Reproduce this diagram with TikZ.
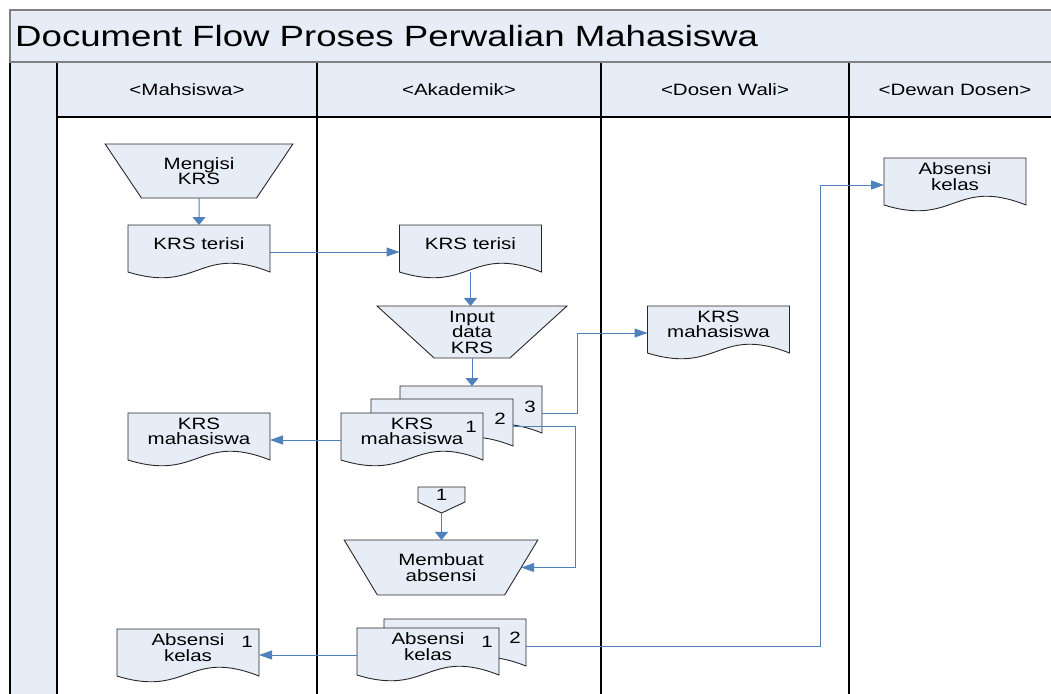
\documentclass[tikz,border=0pt]{standalone}
\usepackage{fontspec}
\setmainfont{Liberation Sans}[FakeStretch=1.25]
\usetikzlibrary{arrows.meta,shapes.geometric}

\definecolor{lanefill}{RGB}{231,237,247}
\definecolor{shapefill}{RGB}{231,237,247}
\definecolor{flowblue}{RGB}{79,129,189}
\definecolor{framegray}{RGB}{128,128,128}
\definecolor{edgegray}{RGB}{40,40,40}

\makeatletter
% Flowchart "document" symbol: the node box is the text area, the sides
% run 10pt further down and end in a wavy bottom edge.
\pgfdeclareshape{flowdoc}{%
  \inheritsavedanchors[from=rectangle]%
  \inheritanchorborder[from=rectangle]%
  \inheritanchor[from=rectangle]{center}%
  \inheritanchor[from=rectangle]{north}%
  \inheritanchor[from=rectangle]{north east}%
  \inheritanchor[from=rectangle]{north west}%
  \anchor{east}{\northeast\advance\pgf@y by -27pt}%
  \anchor{west}{\southwest\pgf@xa=\pgf@x\northeast\pgf@x=\pgf@xa\advance\pgf@y by -27pt}%
  \anchor{south}{\southwest\pgf@xa=\pgf@x\pgf@ya=\pgf@y\northeast\pgf@x=.5\pgf@x\advance\pgf@x by .5\pgf@xa\pgf@y=\pgf@ya\advance\pgf@y by -10pt}%
  \backgroundpath{%
    \southwest\edef\fd@l{\the\pgf@x}\edef\fd@b{\the\pgf@y}%
    \northeast\edef\fd@r{\the\pgf@x}\edef\fd@t{\the\pgf@y}%
    \pgfmathsetlengthmacro\fd@w{\fd@b-10pt}%
    \pgfmathsetlengthmacro\fd@m{(\fd@l+\fd@r)/2}%
    \pgfmathsetlengthmacro\fd@up{\fd@w+28pt}%
    \pgfmathsetlengthmacro\fd@dn{\fd@w-22pt}%
    \pgfpathmoveto{\pgfqpoint{\fd@l}{\fd@t}}%
    \pgfpathlineto{\pgfqpoint{\fd@r}{\fd@t}}%
    \pgfpathlineto{\pgfqpoint{\fd@r}{\fd@w}}%
    \pgfpathcurveto{\pgfqpoint{\fd@m}{\fd@up}}{\pgfqpoint{\fd@m}{\fd@dn}}{\pgfqpoint{\fd@l}{\fd@w}}%
    \pgfpathclose
  }%
}
% Off-page reference: a box with a point hanging 11pt below it.
\pgfdeclareshape{offpage}{%
  \inheritsavedanchors[from=rectangle]%
  \inheritanchorborder[from=rectangle]%
  \inheritanchor[from=rectangle]{center}%
  \inheritanchor[from=rectangle]{north}%
  \anchor{south}{\southwest\pgf@xa=\pgf@x\pgf@ya=\pgf@y\northeast\pgf@x=.5\pgf@x\advance\pgf@x by .5\pgf@xa\pgf@y=\pgf@ya\advance\pgf@y by -11pt}%
  \backgroundpath{%
    \southwest\edef\fd@l{\the\pgf@x}\edef\fd@b{\the\pgf@y}%
    \northeast\edef\fd@r{\the\pgf@x}\edef\fd@t{\the\pgf@y}%
    \pgfmathsetlengthmacro\fd@m{(\fd@l+\fd@r)/2}%
    \pgfmathsetlengthmacro\fd@w{\fd@b-11pt}%
    \pgfpathmoveto{\pgfqpoint{\fd@l}{\fd@t}}%
    \pgfpathlineto{\pgfqpoint{\fd@r}{\fd@t}}%
    \pgfpathlineto{\pgfqpoint{\fd@r}{\fd@b}}%
    \pgfpathlineto{\pgfqpoint{\fd@m}{\fd@w}}%
    \pgfpathlineto{\pgfqpoint{\fd@l}{\fd@b}}%
    \pgfpathclose
  }%
}
\makeatother

\tikzset{
  every node/.style={font=\fontsize{16.4}{15.5}\selectfont, text=black},
  doc/.style={shape=flowdoc, draw=edgegray, fill=shapefill, line width=0.9pt,
    minimum width=142pt, minimum height=37pt, inner sep=0pt, outer sep=0pt, align=center},
  manop/.style={trapezium, trapezium stretches=true,
    trapezium left angle=129, trapezium right angle=129,
    draw=edgegray, fill=shapefill, line width=0.9pt, inner sep=0pt, outer sep=0pt, align=center},
  offref/.style={shape=offpage, draw=edgegray, fill=shapefill, line width=0.9pt,
    minimum width=47pt, minimum height=15pt, inner sep=0pt, outer sep=0pt},
  num/.style={inner sep=0pt},
  lane/.style={line width=1.5pt, black},
  flow/.style={draw=flowblue, line width=1pt},
  arrH/.style={flow, -{Triangle[length=13pt,width=9pt]}},
  arrV/.style={flow, -{Triangle[length=8pt,width=13pt]}},
}

\begin{document}
\begin{tikzpicture}[x=1pt,y=-1pt]
\useasboundingbox (0,0) rectangle (1051,693);

% ---- swimlane frame ----
\fill[lanefill] (10,10) rectangle (1060,62);
\fill[lanefill] (57,62) rectangle (1060,117);
\fill[lanefill] (10,62) rectangle (57,700);
\draw[lane] (10,62) -- (10,700);
\draw[lane] (57,62) -- (57,700);
\draw[lane] (317,62) -- (317,700);
\draw[lane] (601,62) -- (601,700);
\draw[lane] (849,62) -- (849,700);
\draw[lane] (57,117) -- (1060,117);
\draw[framegray, line width=1.5pt] (1060,10) -- (10,10) -- (10,62) -- (1060,62);

\node[anchor=west, inner sep=0pt, font=\fontsize{29.3}{32}\selectfont] (title) at (15,36)
  {Document Flow Proses Perwalian Mahasiswa};
\node (h1) at (187,90) {<Mahsiswa>};
\node (h2) at (459,90) {<Akademik>};
\node (h3) at (725,90) {<Dosen Wali>};
\node (h4) at (955,90) {<Dewan Dosen>};

% ---- Mahasiswa lane ----
\node[manop, minimum width=188pt, minimum height=54pt] (mk) at (199,171) {Mengisi\\KRS};
\node[doc] (kt1) at (199,243.5) {KRS terisi};
\node[doc] (km1) at (199,431.5) {KRS\\mahasiswa};
\node[doc] (ak1) at (188,647.5) {Absensi\\kelas};
\node[num] (ak1n) at ([xshift=-12pt,yshift=-13pt]ak1.north east) {1};

% ---- Akademik lane ----
\node[doc] (kt2) at (470.5,243.5) {KRS terisi};
\node[manop, minimum width=190pt, minimum height=52pt] (inp) at (472,332) {Input\\data\\KRS};
\node[doc] (k3) at (471,404.5) {};
\node[num] (k3n) at ([xshift=-12pt,yshift=-21pt]k3.north east) {3};
\node[doc] (k2) at (442,417.5) {};
\node[num] (k2n) at ([xshift=-13pt,yshift=-20pt]k2.north east) {2};
\node[doc] (k1) at (412,431.5) {KRS\\mahasiswa};
\node[num] (k1n) at ([xshift=-12pt,yshift=-14pt]k1.north east) {1};
\node[offref] (op) at (441.5,494.5) {1};
\node[manop, minimum width=194pt, minimum height=55pt] (mb) at (441,567.5) {Membuat\\absensi};
\node[doc] (a2) at (455,637.5) {};
\node[num] (a2n) at ([xshift=-11pt,yshift=-19pt]a2.north east) {2};
\node[doc] (a1) at (428,646.5) {Absensi\\kelas};
\node[num] (a1n) at ([xshift=-12pt,yshift=-14pt]a1.north east) {1};

% ---- Dosen Wali lane ----
\node[doc] (kmw) at (718.5,324.5) {KRS\\mahasiswa};

% ---- Dewan Dosen lane ----
\node[doc] (akd) at (955,176.5) {Absensi\\kelas};

% ---- document flow ----
\draw[arrV] (mk.south) -- (kt1.north);
\draw[arrH] (kt1.east) -- (kt2.west);
\draw[arrV] (kt2.south) -- (kt2.south |- inp.north);
\draw[arrV] (inp.south) -- (inp.south |- k3.north);
\draw[arrH] (k1.west) -- (k1.west -| km1.east);
\draw[arrH] (k3.east) -- ++(35,0) |- (kmw.west);
\draw[arrH] (k2.east) -- ++(62,0) |- (mb.right side);
\draw[arrV] (op.south) -- (op.south |- mb.north);
\draw[arrH] (a1.west) -- (a1.west -| ak1.east);
\draw[arrH] (a2.east) -- ++(294,0) |- (akd.west);
\end{tikzpicture}
\end{document}
